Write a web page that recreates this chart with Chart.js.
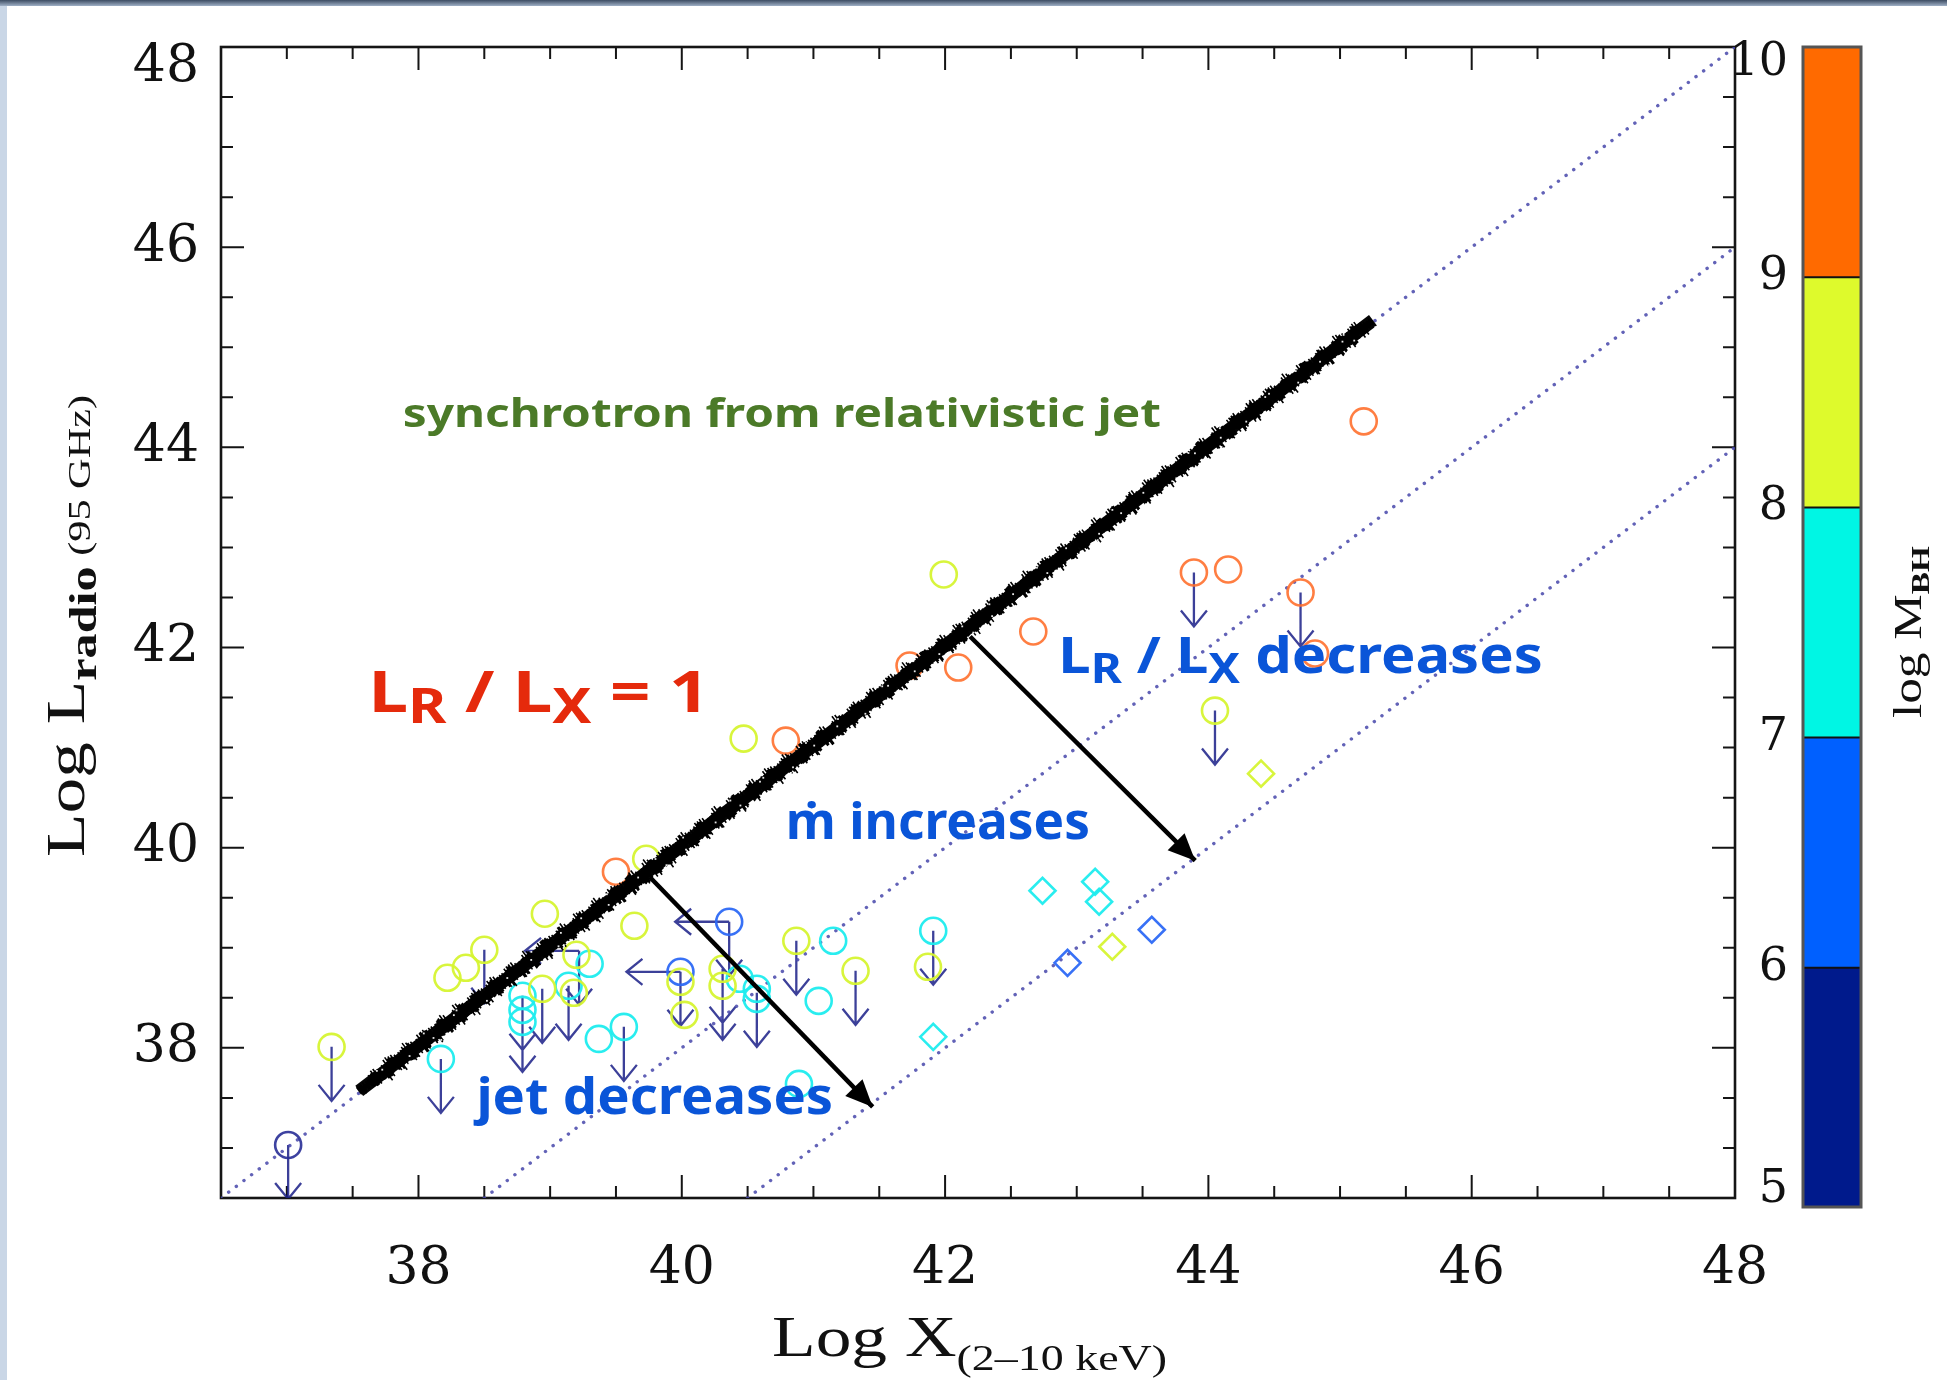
<!DOCTYPE html>
<html>
<head>
<meta charset="utf-8">
<script src="https://cdn.jsdelivr.net/npm/chart.js@4.4.0/dist/chart.umd.min.js"></script>
<style>
  html, body { margin: 0; padding: 0; background: #fff; }
  #wrap { position: relative; width: 1947px; height: 1380px; }
</style>
</head>
<body>
<div id="wrap"><canvas id="radio-chart" width="1947" height="1380"></canvas></div>
<script>
// axis ticks (labelled every 2, minor every 0.5)
const axisTicks = [38, 40, 42, 44, 46, 48];
const massTicks = [5, 6, 7, 8, 9, 10];
const massColors = ["#001a8c", "#0060ff", "#00f6e4", "#defa2c", "#ff6a00"];

// open circles by log M_BH bin
const circlesM5 = [[37.01, 37.03]];
const circlesM6 = [[39.99, 38.76], [40.36, 39.26]];
const circlesM7 = [
  [38.17, 37.89], [38.79, 38.52], [38.79, 38.38], [38.79, 38.26], [39.14, 38.62],
  [39.30, 38.84], [39.37, 38.09], [39.56, 38.21], [40.44, 38.69], [40.57, 38.59],
  [40.57, 38.49], [41.15, 39.07], [41.04, 38.47], [41.91, 39.17], [40.89, 37.64]
];
const circlesM8 = [
  [41.99, 42.73], [44.05, 41.37], [40.47, 41.09], [39.73, 39.89], [38.96, 39.34],
  [39.64, 39.22], [38.50, 38.98], [38.36, 38.80], [38.22, 38.70], [38.94, 38.59],
  [37.34, 38.01], [40.87, 39.07], [41.32, 38.77], [41.87, 38.81], [39.99, 38.66],
  [40.02, 38.33], [40.31, 38.79], [40.31, 38.62], [39.20, 38.93], [39.18, 38.55]
];
const circlesM9 = [
  [45.18, 44.26], [43.89, 42.75], [44.15, 42.78], [44.70, 42.55], [42.67, 42.16],
  [42.10, 41.80], [41.73, 41.82], [40.79, 41.07], [39.50, 39.76], [44.81, 41.94]
];

// open diamonds by log M_BH bin
const diamondsM6 = [[42.93, 38.85], [43.57, 39.18]];
const diamondsM7 = [[42.74, 39.57], [43.14, 39.66], [43.17, 39.46], [41.91, 38.11]];
const diamondsM8 = [[44.40, 40.74], [43.27, 39.01]];

// upper limits
const downLimits = [
  [37.01, 37.03], [37.34, 38.01], [38.17, 37.89], [38.50, 38.98], [38.79, 38.52],
  [38.79, 38.30], [38.94, 38.59], [39.14, 38.62], [39.22, 38.97], [39.56, 38.21],
  [39.99, 38.76], [40.36, 39.26], [40.31, 38.79], [40.31, 38.62], [40.57, 38.55],
  [40.87, 39.07], [41.32, 38.77], [41.91, 39.17], [43.89, 42.75], [44.70, 42.55],
  [44.05, 41.37]
];
const leftLimits = [[39.22, 38.97], [39.99, 38.76], [40.36, 39.26]];

// L_R / L_X lines and sketch marks
const ratioLine0 = [[36.5, 36.5], [48, 48]];
const ratioLine2 = [[38.5, 36.5], [48, 46]];
const ratioLine4 = [[40.5, 36.5], [48, 44]];
const jetLine = [[37.55, 37.57], [45.25, 45.27]];
const arrowJet = [[39.74, 39.73], [41.45, 37.41]];
const arrowRatio = [[42.19, 42.11], [43.90, 39.87]];

const toXY = (pts) => pts.map(([x, y]) => ({ x, y }));

function markSet(pts, color, style) {
  return {
    data: toXY(pts),
    showLine: false,
    pointStyle: style,
    pointRadius: 13,
    pointBorderWidth: 2.6,
    pointBorderColor: color,
    pointBackgroundColor: "rgba(0,0,0,0)",
  };
}

function lineSet(pts, color, width, dash) {
  return {
    data: toXY(pts),
    showLine: true,
    pointRadius: 0,
    borderColor: color,
    borderWidth: width,
    borderDash: dash || [],
    borderCapStyle: dash ? "round" : "butt",
  };
}

const serif = "'DejaVu Serif', 'Liberation Serif', serif";
const titleSerif = "'Liberation Serif', 'DejaVu Serif', serif";
const hand = "'Comic Sans MS', 'Noto Sans', sans-serif";

function drawRich(ctx, parts, x, y, width, color) {
  ctx.save();
  ctx.fillStyle = color;
  ctx.textAlign = "left";
  ctx.textBaseline = "alphabetic";
  let natural = 0;
  parts.forEach((p) => {
    ctx.font = p.font;
    natural += ctx.measureText(p.t).width;
  });
  const k = width ? width / natural : 1;
  ctx.translate(x, y);
  ctx.scale(k, 1);
  let cx = 0;
  parts.forEach((p) => {
    ctx.font = p.font;
    ctx.fillText(p.t, cx, p.dy || 0);
    cx += ctx.measureText(p.t).width;
  });
  ctx.restore();
}

function ratioParts(size) {
  const f = `bold ${size}px ${hand}`;
  const s = `bold ${Math.round(size * 0.82)}px ${hand}`;
  return [
    { t: "L", font: f },
    { t: "R", font: s, dy: size * 0.2 },
    { t: " / ", font: f },
    { t: "L", font: f },
    { t: "X", font: s, dy: size * 0.2 },
  ];
}

// notes in data coordinates: left, right, baseline
const notes = [
  { x0: 37.88, x1: 43.64, y: 44.2, color: "#4b7a28",
    parts: [{ t: "synchrotron from relativistic jet", font: `bold 40px ${hand}` }] },
  { x0: 37.62, x1: 40.21, y: 41.36, color: "#e52a0c",
    parts: ratioParts(58).concat([{ t: " = 1", font: `bold 58px ${hand}` }]) },
  { x0: 42.86, x1: 46.54, y: 41.75, color: "#0a55d8",
    parts: ratioParts(50).concat([{ t: " decreases", font: `bold 50px ${hand}` }]) },
  { x0: 40.79, x1: 43.1, y: 40.09, color: "#0a55d8",
    parts: [{ t: "ṁ increases", font: `bold 50px ${hand}` }] },
  { x0: 38.44, x1: 41.15, y: 37.34, color: "#0a55d8",
    parts: [{ t: "jet decreases", font: `bold 50px ${hand}` }] },
];

function arrowHead(ctx, x0, y0, x1, y1, len, half) {
  const a = Math.atan2(y1 - y0, x1 - x0);
  ctx.beginPath();
  ctx.moveTo(x1, y1);
  ctx.lineTo(x1 - len * Math.cos(a) + half * Math.sin(a), y1 - len * Math.sin(a) - half * Math.cos(a));
  ctx.lineTo(x1 - len * Math.cos(a) - half * Math.sin(a), y1 - len * Math.sin(a) + half * Math.cos(a));
  ctx.closePath();
  ctx.fill();
}

const decor = {
  id: "decor",
  beforeDraw(chart) {
    const ctx = chart.ctx;
    ctx.save();
    ctx.fillStyle = "#ffffff";
    ctx.fillRect(0, 0, chart.width, chart.height);
    const g = ctx.createLinearGradient(0, 0, 0, 6);
    g.addColorStop(0, "#3c4c62");
    g.addColorStop(1, "#9fb0c6");
    ctx.fillStyle = "#c9d6e6";
    ctx.fillRect(0, 0, 7, chart.height);
    ctx.fillStyle = g;
    ctx.fillRect(0, 0, chart.width, 6);
    ctx.restore();
  },
  beforeDatasetsDraw(chart) {
    const { ctx, chartArea: a, scales } = chart;
    const sx = scales.x, sy = scales.y;
    ctx.save();
    ctx.strokeStyle = "#151515";
    ctx.lineWidth = 2;
    ctx.beginPath();
    for (let k = Math.ceil(sx.min * 2); k <= Math.floor(sx.max * 2); k++) {
      const v = k / 2;
      const len = v % 2 === 0 ? 23 : 12;
      const px = sx.getPixelForValue(v);
      ctx.moveTo(px, a.bottom); ctx.lineTo(px, a.bottom - len);
      ctx.moveTo(px, a.top); ctx.lineTo(px, a.top + len);
    }
    for (let k = Math.ceil(sy.min * 2); k <= Math.floor(sy.max * 2); k++) {
      const v = k / 2;
      const len = v % 2 === 0 ? 23 : 12;
      const py = sy.getPixelForValue(v);
      ctx.moveTo(a.left, py); ctx.lineTo(a.left + len, py);
      ctx.moveTo(a.right, py); ctx.lineTo(a.right - len, py);
    }
    ctx.stroke();
    ctx.lineWidth = 2.6;
    ctx.strokeRect(a.left, a.top, a.right - a.left, a.bottom - a.top);

    // y tick labels (top one kept inside the frame, as in the original)
    ctx.fillStyle = "#111";
    ctx.font = `52px ${serif}`;
    ctx.textAlign = "right";
    ctx.textBaseline = "middle";
    axisTicks.forEach((v) => {
      let py = sy.getPixelForValue(v);
      if (v === sy.max) py += 20;
      ctx.fillText(String(v), a.left - 22, py);
    });
    ctx.restore();

    // upper-limit arrows, clipped to the frame
    ctx.save();
    ctx.beginPath();
    ctx.rect(a.left, a.top, a.right - a.left, a.bottom - a.top);
    ctx.clip();
    ctx.strokeStyle = "rgba(26,30,135,0.85)";
    ctx.lineWidth = 2.3;
    ctx.beginPath();
    downLimits.forEach(([x, y]) => {
      const px = sx.getPixelForValue(x), py = sy.getPixelForValue(y);
      const end = py + 54;
      ctx.moveTo(px, py); ctx.lineTo(px, end);
      ctx.moveTo(px - 13, end - 16); ctx.lineTo(px, end); ctx.lineTo(px + 13, end - 16);
    });
    leftLimits.forEach(([x, y]) => {
      const px = sx.getPixelForValue(x), py = sy.getPixelForValue(y);
      const end = px - 54;
      ctx.moveTo(px, py); ctx.lineTo(end, py);
      ctx.moveTo(end + 16, py - 13); ctx.lineTo(end, py); ctx.lineTo(end + 16, py + 13);
    });
    ctx.stroke();
    ctx.restore();
  },
  afterDatasetsDraw(chart) {
    // rough marker-pen texture over the jet line
    const { ctx, scales } = chart;
    const x0 = scales.x.getPixelForValue(jetLine[0][0]), y0 = scales.y.getPixelForValue(jetLine[0][1]);
    const x1 = scales.x.getPixelForValue(jetLine[1][0]), y1 = scales.y.getPixelForValue(jetLine[1][1]);
    const len = Math.hypot(x1 - x0, y1 - y0);
    const ux = (x1 - x0) / len, uy = (y1 - y0) / len;
    const nx = -uy, ny = ux;
    ctx.save();
    ctx.strokeStyle = "#000";
    ctx.lineWidth = 1.6;
    ctx.beginPath();
    for (let s = 0; s < len; s += 1.5) {
      const w1 = 7.5 + 2.2 * Math.sin(s * 0.41) + 1.8 * Math.sin(s * 1.37 + 1.1) + 1.2 * Math.sin(s * 3.1);
      const w2 = 7.5 + 2.2 * Math.sin(s * 0.29 + 2) + 1.8 * Math.sin(s * 1.91) + 1.2 * Math.sin(s * 2.7 + 0.5);
      const taper = Math.min(1, 0.45 + s / 60, 0.45 + (len - s) / 40);
      const cx = x0 + ux * s, cy = y0 + uy * s;
      ctx.moveTo(cx + nx * w1 * taper, cy + ny * w1 * taper);
      ctx.lineTo(cx - nx * w2 * taper, cy - ny * w2 * taper);
    }
    ctx.stroke();
    ctx.fillStyle = "rgba(255,255,255,0.9)";
    for (let s = 6; s < len; s += 5) {
      if (Math.sin(s * 2.71) > 0.5) {
        const off = 8 * Math.sin(s * 0.93);
        ctx.fillRect(x0 + ux * s + nx * off, y0 + uy * s + ny * off, 1.8, 1.8);
      }
    }
    ctx.restore();
  },
  afterDraw(chart) {
    const { ctx, chartArea: a, scales } = chart;
    const sx = scales.x, sy = scales.y, sm = scales.mass;
    ctx.save();

    // heads of the sketched arrows
    ctx.fillStyle = "#000";
    [arrowJet, arrowRatio].forEach((arr) => {
      const [p0, p1] = arr;
      arrowHead(ctx, sx.getPixelForValue(p0[0]), sy.getPixelForValue(p0[1]),
        sx.getPixelForValue(p1[0]), sy.getPixelForValue(p1[1]), 27, 12);
    });

    // hand-written notes
    notes.forEach((n) => {
      const x0 = sx.getPixelForValue(n.x0), x1 = sx.getPixelForValue(n.x1);
      drawRich(ctx, n.parts, x0, sy.getPixelForValue(n.y), x1 - x0, n.color);
    });

    // colour bar
    const cbLeft = a.right + 68, cbW = 58;
    const cbTop = sm.getPixelForValue(10), cbBot = sm.getPixelForValue(5) + 9;
    for (let i = 0; i < massColors.length; i++) {
      const top = i === massColors.length - 1 ? cbTop : sm.getPixelForValue(massTicks[i + 1]);
      const bot = i === 0 ? cbBot : sm.getPixelForValue(massTicks[i]);
      ctx.fillStyle = massColors[i];
      ctx.fillRect(cbLeft, top, cbW, bot - top);
    }
    ctx.strokeStyle = "#111";
    ctx.lineWidth = 2;
    ctx.beginPath();
    massTicks.slice(1, -1).forEach((v) => {
      const py = sm.getPixelForValue(v);
      ctx.moveTo(cbLeft, py); ctx.lineTo(cbLeft + cbW, py);
    });
    ctx.stroke();
    ctx.strokeStyle = "#555";
    ctx.lineWidth = 3;
    ctx.strokeRect(cbLeft, cbTop, cbW, cbBot - cbTop);

    // colour bar labels, kept inside the bar's span
    ctx.fillStyle = "#111";
    ctx.font = `46px ${serif}`;
    ctx.textAlign = "right";
    ctx.textBaseline = "middle";
    massTicks.forEach((v) => {
      let py = sm.getPixelForValue(v);
      if (v === 10) py += 16;
      if (v === 5) py -= 8;
      ctx.fillText(String(v), a.right + 53, py);
    });

    // axis titles
    drawRich(ctx, [
      { t: "Log X", font: `56px ${titleSerif}` },
      { t: "(2\u201310 keV)", font: `36px ${titleSerif}`, dy: 14 },
    ], 772, 1356, 395, "#111");

    ctx.save();
    ctx.translate(84, 857);
    ctx.rotate(-Math.PI / 2);
    drawRich(ctx, [
      { t: "Log L", font: `54px ${titleSerif}` },
      { t: "radio", font: `bold 38px ${titleSerif}`, dy: 12 },
      { t: " (95 GHz)", font: `32px ${titleSerif}`, dy: 6 },
    ], 0, 0, 462, "#111");
    ctx.restore();

    ctx.save();
    ctx.translate(1921, 718);
    ctx.rotate(-Math.PI / 2);
    drawRich(ctx, [
      { t: "log M", font: `40px ${titleSerif}` },
      { t: "BH", font: `bold 26px ${titleSerif}`, dy: 8 },
    ], 0, 0, 172, "#111");
    ctx.restore();

    ctx.restore();
  },
};

const tickFont = { family: serif, size: 52 };

new Chart(document.querySelector("#radio-chart").getContext("2d"), {
  type: "scatter",
  data: {
    datasets: [
      lineSet(jetLine, "#050505", 13),
      lineSet(arrowJet, "#000", 4.5),
      lineSet(arrowRatio, "#000", 4.5),
      markSet(circlesM9, "rgba(255,112,45,0.9)", "circle"),
      markSet(circlesM8, "rgba(214,244,50,0.95)", "circle"),
      markSet(circlesM7, "rgba(30,236,238,0.95)", "circle"),
      markSet(circlesM6, "rgba(45,105,245,0.95)", "circle"),
      markSet(circlesM5, "rgba(40,46,150,0.9)", "circle"),
      markSet(diamondsM8, "rgba(214,244,50,0.95)", "rectRot"),
      markSet(diamondsM7, "rgba(30,236,238,0.95)", "rectRot"),
      markSet(diamondsM6, "rgba(45,105,245,0.95)", "rectRot"),
      lineSet(ratioLine0, "rgba(70,70,170,0.85)", 3.4, [0.1, 9.5]),
      lineSet(ratioLine2, "rgba(70,70,170,0.85)", 3.4, [0.1, 9.5]),
      lineSet(ratioLine4, "rgba(70,70,170,0.85)", 3.4, [0.1, 9.5]),
    ],
  },
  options: {
    responsive: false,
    animation: false,
    events: [],
    devicePixelRatio: 1,
    layout: { padding: { top: 47, right: 0, bottom: 0, left: 0 } },
    plugins: { legend: { display: false }, tooltip: { enabled: false } },
    scales: {
      x: {
        type: "linear",
        min: 36.5,
        max: 48,
        grid: { display: false },
        border: { display: false },
        afterBuildTicks: (s) => { s.ticks = axisTicks.map((v) => ({ value: v })); },
        afterFit: (s) => { s.height = 182; },
        ticks: { font: tickFont, color: "#111", padding: 32, maxRotation: 0 },
      },
      y: {
        type: "linear",
        min: 36.5,
        max: 48,
        grid: { display: false },
        border: { display: false },
        afterBuildTicks: (s) => { s.ticks = axisTicks.map((v) => ({ value: v })); },
        afterFit: (s) => { s.width = 221; },
        ticks: { display: false },
      },
      mass: {
        type: "linear",
        position: "right",
        min: 5,
        max: 10,
        grid: { display: false },
        border: { display: false },
        afterBuildTicks: (s) => { s.ticks = massTicks.map((v) => ({ value: v })); },
        afterFit: (s) => { s.width = 212; },
        ticks: { display: false },
      },
    },
  },
  plugins: [decor],
});
</script>
</body>
</html>
